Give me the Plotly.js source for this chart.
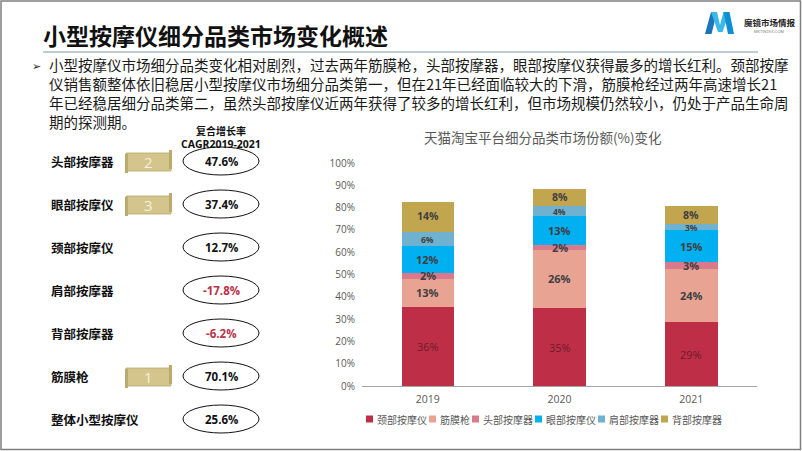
<!DOCTYPE html>
<html>
<head>
<meta charset="utf-8">
<script src="https://cdn.plot.ly/plotly-3.0.1.min.js"></script>
<style>
html,body{margin:0;padding:0;background:#fff;}
#chart{width:802px;height:451px;}
</style>
</head>
<body>
<div id="chart"></div>
<script>
// ---------------- DATA ----------------
const years = ['2019', '2020', '2021'];
const seriesNames = ['颈部按摩仪', '筋膜枪', '头部按摩器', '眼部按摩仪', '肩部按摩器', '背部按摩器'];
const neckShare     = [35.6, 34.9, 28.6];
const fasciaShare   = [12.6, 26.2, 23.8];
const headShare     = [2.4, 2.2, 3.0];
const eyeShare      = [12.3, 13.1, 14.7];
const shoulderShare = [6.2, 4.1, 2.6];
const backShare     = [13.6, 8.0, 7.8];
const yTickVals = [0, 10, 20, 30, 40, 50, 60, 70, 80, 90, 100];

const pageTitle = '小型按摩仪细分品类市场变化概述';
const chartTitle = '天猫淘宝平台细分品类市场份额(%)变化';
const paragraphLines = [
  '小型按摩仪市场细分品类变化相对剧烈，过去两年筋膜枪，头部按摩器，眼部按摩仪获得最多的增长红利。颈部按摩',
  '仪销售额整体依旧稳居小型按摩仪市场细分品类第一，但在21年已经面临较大的下滑，筋膜枪经过两年高速增长21',
  '年已经稳居细分品类第二，虽然头部按摩仪近两年获得了较多的增长红利，但市场规模仍然较小，仍处于产品生命周',
  '期的探测期。'
];
const cagrHeader = ['复合增长率', 'CAGR2019-2021'];
const cagrCategories = ['头部按摩器', '眼部按摩仪', '颈部按摩仪', '肩部按摩器', '背部按摩器', '筋膜枪', '整体小型按摩仪'];
const cagrValues = [47.6, 37.4, 12.7, -17.8, -6.2, 70.1, 25.6];
const growthRank = [2, 3, null, null, null, 1, null];
const logoName = '魔镜市场情报';
const logoSub = 'MKTINDEX.COM';

// ---------------- STYLES ----------------
const seriesValues = [neckShare, fasciaShare, headShare, eyeShare, shoulderShare, backShare];
const seriesColors = ['#BE2F47', '#E8A393', '#D97A8C', '#00B0F0', '#6FB2CF', '#C2A54F'];
const labelColors  = ['#6E1A28', '#3F3F3F', '#3F3F3F', '#3F3F3F', '#3F3F3F', '#3F3F3F'];
const labelBold    = [false, true, true, true, true, true];
const labelSizes   = [11, 11, 11, 11, 8.5, 10.5];
const labelShift   = [0, 0, 0, 0, -0.6, 0.6];
const CJK = '"Noto Sans CJK SC", "Noto Sans", sans-serif';
const LAT = '"Open Sans", "Noto Sans", sans-serif';

// plot area in pixels
const L = 362, R = 757, T = 163, B = 386;
const PW = R - L, PH = B - T;
const px = x => (x - L) / PW;
const py = y => (B - y) / PH;

// ---------------- TRACES ----------------
const traces = seriesValues.map((vals, i) => ({
  type: 'bar',
  name: seriesNames[i],
  x: years,
  y: vals,
  width: years.map(() => 0.4),
  marker: {color: seriesColors[i], line: {width: 0}},
  textposition: 'none',
  hoverinfo: 'skip',
  showlegend: false
}));

const annotations = [];
const shapes = [];

function addText(text, x, y, font, xanchor) {
  annotations.push({
    text: text, xref: 'paper', yref: 'paper', x: px(x), y: py(y),
    xanchor: xanchor || 'left', yanchor: 'middle', showarrow: false,
    font: font
  });
}

// segment labels (data coordinates; category index on x)
years.forEach((yr, j) => {
  let base = 0;
  seriesValues.forEach((vals, i) => {
    const v = vals[j];
    const mid = base + v / 2;
    base += v;
    const t = Math.round(v) + '%';
    annotations.push({
      text: labelBold[i] ? '<b>' + t + '</b>' : t,
      xref: 'x', yref: 'y', x: j, y: mid, yshift: labelShift[i],
      showarrow: false, xanchor: 'center', yanchor: 'middle',
      font: {family: LAT, size: labelSizes[i], color: labelColors[i]}
    });
  });
});

// chart title
addText(chartTitle, 543, 137, {family: CJK, size: 13.5, color: '#595959'}, 'center');

// custom legend
let lx = 366;
seriesNames.forEach((n, i) => {
  shapes.push({type: 'rect', xref: 'paper', yref: 'paper',
    x0: px(lx), x1: px(lx + 7), y0: py(422.5), y1: py(415.5),
    fillcolor: seriesColors[i], line: {width: 0}});
  addText(n, lx + 9, 419, {family: CJK, size: 10, color: '#595959'}, 'left');
  lx += 9 + n.length * 10 + 4;
});

// page frame
shapes.push({type: 'rect', xref: 'paper', yref: 'paper',
  x0: px(1), x1: px(800.5), y0: py(1), y1: py(449.5),
  line: {color: '#7F7F7F', width: 1.5}, fillcolor: 'rgba(0,0,0,0)'});

// page title & underline
addText('<b>' + pageTitle + '</b>', 41, 35, {family: CJK, size: 23, color: '#111111'}, 'left');
shapes.push({type: 'line', xref: 'paper', yref: 'paper',
  x0: px(43), x1: px(758), y0: py(52), y1: py(52),
  line: {color: '#A9BEC6', width: 1.5}});

// logo
function pathPx(pts) {
  return 'M' + pts.map(p => px(p[0]) + ',' + py(p[1])).join(' L') + ' Z';
}
shapes.push({type: 'path', xref: 'paper', yref: 'paper', line: {width: 0}, fillcolor: '#1B75BB',
  path: pathPx([[705, 34], [711, 12], [717, 12], [711.5, 34]])});
shapes.push({type: 'path', xref: 'paper', yref: 'paper', line: {width: 0}, fillcolor: '#3BB7EA',
  path: pathPx([[711, 12], [717, 12], [720, 25], [723.5, 12], [729.5, 12], [722.5, 32], [718, 32]])});
shapes.push({type: 'path', xref: 'paper', yref: 'paper', line: {width: 0}, fillcolor: '#0E8FD4',
  path: pathPx([[723.5, 12], [729.5, 12], [734, 34], [728, 34]])});
addText('<b>' + logoName + '</b>', 742, 22, {family: CJK, size: 8.5, color: '#222222'}, 'left');
addText(logoSub, 752, 31, {family: LAT, size: 4, color: '#777777'}, 'left');

// paragraph (one text block)
addText('➢', 30, 66, {family: '"DejaVu Sans", sans-serif', size: 11, color: '#222222'}, 'left');
annotations.push({
  text: paragraphLines.join('<br>'), xref: 'paper', yref: 'paper',
  x: px(47), y: py(92.5), xanchor: 'left', yanchor: 'middle', align: 'left',
  showarrow: false, font: {family: CJK, size: 14.5, color: '#1A1A1A'}
});

// CAGR header
addText('<b>' + cagrHeader[0] + '</b>', 221, 130, {family: CJK, size: 10, color: '#111111'}, 'center');
addText('<b>' + cagrHeader[1] + '</b>', 221, 144, {family: LAT, size: 10.5, color: '#111111'}, 'center');

// CAGR rows
cagrCategories.forEach((c, i) => {
  const y = 161 + i * 43;
  addText('<b>' + c + '</b>', 49, y, {family: CJK, size: 12.5, color: '#111111'}, 'left');
  shapes.push({type: 'circle', xref: 'paper', yref: 'paper',
    x0: px(183), x1: px(259), y0: py(y + 14), y1: py(y - 14),
    line: {color: '#111111', width: 1}, fillcolor: 'rgba(0,0,0,0)'});
  const v = cagrValues[i];
  addText('<b>' + v.toFixed(1) + '%</b>', 221, y, {family: LAT, size: 11.5, color: v < 0 ? '#B8334A' : '#111111'}, 'center');
  if (growthRank[i] != null) {
    const x0 = 126, x1 = 171, y0 = y - 8, y1 = y + 10;
    shapes.push({type: 'rect', xref: 'paper', yref: 'paper',
      x0: px(x0), x1: px(x1), y0: py(y1), y1: py(y0),
      fillcolor: '#D3C58B', line: {color: '#B8A86C', width: 0.8}});
    shapes.push({type: 'rect', xref: 'paper', yref: 'paper',
      x0: px(x0 - 1), x1: px(x0 + 2), y0: py(y1 + 2), y1: py(y0 + 1),
      fillcolor: '#B9AA6E', line: {width: 0}});
    shapes.push({type: 'rect', xref: 'paper', yref: 'paper',
      x0: px(x1 - 2), x1: px(x1 + 1), y0: py(y1 - 2), y1: py(y0 - 3),
      fillcolor: '#B9AA6E', line: {width: 0}});
    addText(String(growthRank[i]), (x0 + x1) / 2, y + 1, {family: LAT, size: 15, color: '#F6F1DC'}, 'center');
  }
});

const layout = {
  width: 802, height: 451,
  margin: {l: L, r: 802 - R, t: T, b: 451 - B, pad: 0},
  paper_bgcolor: '#FFFFFF', plot_bgcolor: 'rgba(0,0,0,0)',
  barmode: 'stack',
  showlegend: false,
  hovermode: false,
  xaxis: {
    type: 'category', range: [-0.5, 2.5], fixedrange: true,
    showline: true, linecolor: '#A6A6A6', linewidth: 1.3,
    ticks: '', showgrid: false, zeroline: false, ticklabelstandoff: 3,
    tickfont: {family: LAT, size: 10.5, color: '#595959'}
  },
  yaxis: {
    range: [0, 100], tickvals: yTickVals, ticktext: yTickVals.map(v => v + '%'),
    showgrid: false, zeroline: false, showline: false, ticks: '',
    ticklabelstandoff: 6, fixedrange: true,
    tickfont: {family: LAT, size: 10, color: '#595959'}
  },
  annotations: annotations,
  shapes: shapes
};

Plotly.newPlot('chart', traces, layout, {displayModeBar: false, staticPlot: true});
</script>
</body>
</html>
